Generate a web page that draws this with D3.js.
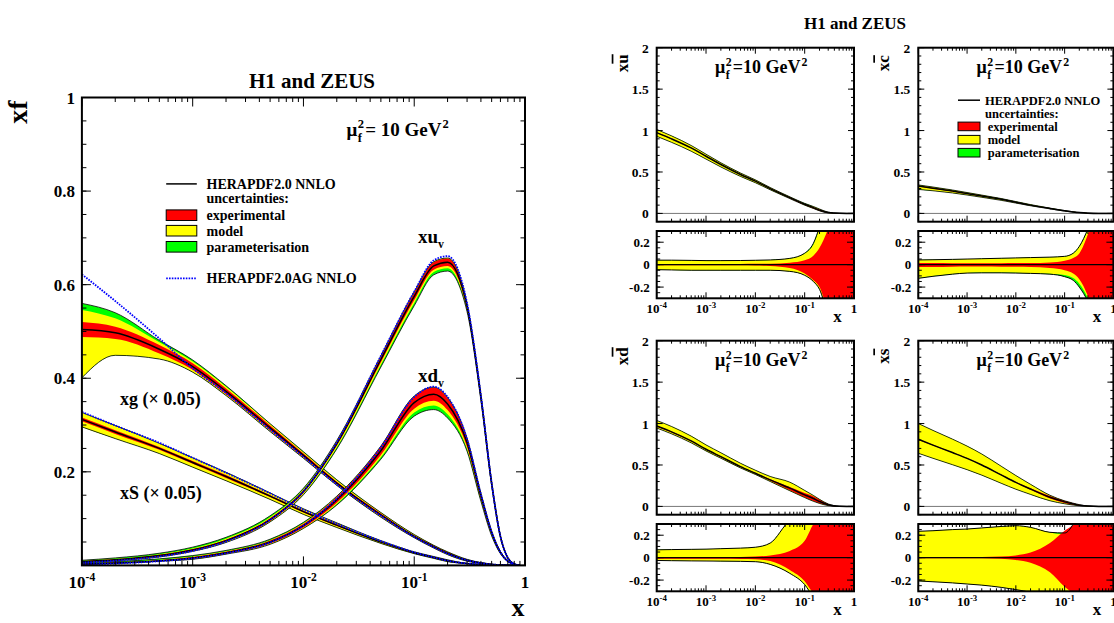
<!DOCTYPE html>
<html><head><meta charset="utf-8">
<script src="https://cdn.jsdelivr.net/npm/d3@7"></script>
<style>
body{margin:0;background:#fff}
svg{display:block}
text{font-family:"Liberation Serif","Times New Roman",serif;font-weight:bold;fill:#000}
</style>
</head><body>
<svg id="chart" width="1114" height="623"></svg>
<script>
// ---------------- DATA: left plot (HERAPDF2.0 NNLO, mu_f^2 = 10 GeV^2) ----------------
const LX = [1e-4,2e-4,5e-4,1e-3,2e-3,5e-3,1e-2,2e-2,5e-2,0.1,0.15,0.2,0.3,0.4,0.5,0.6,0.7,0.8,0.9];

const xgC     = [0.504,0.497,0.462,0.425,0.372,0.294,0.235,0.176,0.108,0.062,0.040,0.026,0.011,0.005,0.002,0.001,0.0003,0,0];
const xgExp   = [0.016,0.013,0.009,0.007,0.006,0.005,0.004,0.003,0.003,0.002,0.002,0.002,0.001,0.001,0.001,0,0,0,0];
const xgModUp = [0.026,0.018,0.006,0.004,0.004,0.003,0.003,0.003,0.002,0.002,0.001,0.001,0.001,0,0,0,0,0,0];
const xgModDn = [0.087,0.035,0.012,0.005,0.003,0.003,0.002,0.002,0.002,0.001,0.001,0.001,0.001,0,0,0,0,0,0];
const xgParUp = [0.014,0.012,0.004,0.003,0.002,0.001,0.001,0.001,0,0,0,0,0,0,0,0,0,0,0];
const xgParDn = [0,0,0,0,0,0,0,0,0,0,0,0,0,0,0,0,0,0,0];
const xgAG    = [0.622,0.565,0.485,0.421,0.368,0.290,0.232,0.173,0.106,0.061,0.039,0.025,0.011,0.005,0.002,0.001,0.0003,0,0];

const xSC     = [0.312,0.285,0.250,0.220,0.190,0.148,0.115,0.086,0.050,0.027,0.017,0.010,0.004,0.0015,0.0005,0,0,0,0];
const xSExp   = [0.004,0.004,0.003,0.003,0.003,0.002,0.002,0.002,0.001,0.001,0.001,0.001,0,0,0,0,0,0,0];
const xSModUp = [0.011,0.010,0.008,0.007,0.006,0.005,0.004,0.003,0.002,0.001,0.001,0.001,0,0,0,0,0,0,0];
const xSModDn = [0.012,0.010,0.008,0.007,0.006,0.005,0.004,0.003,0.002,0.001,0.001,0.001,0,0,0,0,0,0,0];
const xSParUp = [0,0,0,0,0,0,0,0,0,0,0,0,0,0,0,0,0,0,0];
const xSParDn = [0,0,0,0,0,0,0,0,0,0,0,0,0,0,0,0,0,0,0];
const xSAG    = [0.328,0.299,0.262,0.230,0.198,0.154,0.119,0.089,0.052,0.028,0.017,0.010,0.004,0.0015,0.0005,0,0,0,0];

const xuvC     = [0.008,0.012,0.021,0.033,0.053,0.098,0.158,0.260,0.440,0.575,0.640,0.648,0.553,0.360,0.175,0.062,0.016,0.003,0];
const xuvExp   = [0.001,0.001,0.002,0.002,0.002,0.003,0.003,0.004,0.006,0.008,0.008,0.008,0.006,0.005,0.004,0.002,0.001,0,0];
const xuvModUp = [0.001,0.001,0.001,0.001,0.002,0.002,0.002,0.002,0.002,0.002,0.001,0.001,0.001,0.001,0.001,0,0,0,0];
const xuvModDn = [0.001,0.001,0.001,0.001,0.002,0.002,0.003,0.004,0.005,0.006,0.005,0.005,0.003,0.002,0.001,0.001,0,0,0];
const xuvParUp = [0.001,0.002,0.002,0.003,0.003,0.003,0.002,0.001,0,0,0,0,0,0,0,0,0,0,0];
const xuvParDn = [0,0,0,0,0,0,0.001,0.003,0.005,0.006,0.006,0.006,0.002,0.001,0,0,0,0,0];
const xuvAG    = [0.006,0.010,0.019,0.031,0.051,0.097,0.158,0.263,0.448,0.585,0.652,0.661,0.560,0.363,0.176,0.062,0.016,0.003,0];

const xdvC     = [0.003,0.005,0.010,0.016,0.027,0.050,0.085,0.140,0.245,0.348,0.366,0.345,0.262,0.148,0.070,0.028,0.009,0.002,0];
const xdvExp   = [0.001,0.001,0.001,0.002,0.002,0.003,0.004,0.006,0.009,0.013,0.014,0.013,0.009,0.006,0.004,0.002,0.001,0,0];
const xdvModUp = [0.001,0.001,0.001,0.001,0.001,0.001,0.001,0.001,0.001,0.001,0.001,0.001,0.001,0.001,0,0,0,0,0];
const xdvModDn = [0,0,0,0.001,0.001,0.002,0.002,0.003,0.005,0.008,0.010,0.009,0.005,0.003,0.002,0.001,0,0,0];
const xdvParUp = [0.001,0.001,0.002,0.002,0.002,0.002,0.002,0.001,0,0,0,0,0,0,0,0,0,0,0];
const xdvParDn = [0,0,0,0,0,0,0,0.002,0.004,0.008,0.009,0.008,0.004,0.002,0.001,0,0,0,0];
const xdvAG    = [0.002,0.004,0.009,0.015,0.026,0.049,0.085,0.143,0.252,0.360,0.382,0.360,0.270,0.152,0.071,0.028,0.009,0.002,0];

// ---------------- DATA: right panels (central values + relative band edges) ----------------
const RX = [1e-4,2e-4,5e-4,1e-3,2e-3,5e-3,1e-2,2e-2,5e-2,0.1,0.15,0.2,0.3,0.5,0.7,1];

const ubarC     = [0.975,0.90,0.79,0.69,0.59,0.47,0.39,0.30,0.19,0.11,0.07,0.04,0.01,0.001,0,0];
const ubarRedUp = [0.006,0.006,0.005,0.005,0.005,0.006,0.007,0.009,0.018,0.04,0.08,0.15,0.32,0.6,0.6,0.6];
const ubarRedDn = [-0.006,-0.006,-0.005,-0.005,-0.005,-0.006,-0.008,-0.012,-0.03,-0.08,-0.14,-0.2,-0.42,-0.6,-0.6,-0.6];
const ubarYelUp = [0.04,0.04,0.038,0.036,0.036,0.037,0.039,0.042,0.055,0.1,0.18,0.32,0.5,0.6,0.6,0.6];
const ubarYelDn = [-0.045,-0.047,-0.05,-0.05,-0.05,-0.05,-0.05,-0.05,-0.06,-0.095,-0.15,-0.22,-0.45,-0.6,-0.6,-0.6];
const ubarTotUp = [0.04,0.04,0.038,0.036,0.036,0.037,0.039,0.042,0.056,0.102,0.19,0.33,0.5,0.6,0.6,0.6];
const ubarTotDn = [-0.045,-0.047,-0.05,-0.05,-0.05,-0.05,-0.05,-0.05,-0.06,-0.095,-0.15,-0.22,-0.45,-0.6,-0.6,-0.6];

const cbarC     = [0.33,0.305,0.27,0.24,0.21,0.17,0.135,0.10,0.06,0.032,0.018,0.01,0.003,0,0,0];
const cbarRedUp = [0.015,0.014,0.013,0.013,0.013,0.013,0.014,0.015,0.02,0.035,0.06,0.1,0.27,0.6,0.6,0.6];
const cbarRedDn = [-0.02,-0.02,-0.018,-0.017,-0.017,-0.018,-0.019,-0.02,-0.03,-0.05,-0.08,-0.13,-0.28,-0.6,-0.6,-0.6];
const cbarYelUp = [0.041,0.043,0.046,0.05,0.053,0.057,0.06,0.063,0.067,0.073,0.1,0.16,0.31,0.6,0.6,0.6];
const cbarYelDn = [-0.12,-0.102,-0.083,-0.074,-0.071,-0.071,-0.073,-0.076,-0.082,-0.092,-0.12,-0.17,-0.3,-0.6,-0.6,-0.6];
const cbarTotUp = [0.042,0.044,0.047,0.05,0.053,0.057,0.06,0.063,0.067,0.074,0.102,0.163,0.32,0.6,0.6,0.6];
const cbarTotDn = [-0.122,-0.104,-0.085,-0.075,-0.073,-0.073,-0.075,-0.078,-0.085,-0.107,-0.14,-0.2,-0.33,-0.6,-0.6,-0.6];

const dbarC     = [0.97,0.90,0.79,0.69,0.60,0.48,0.40,0.32,0.22,0.14,0.095,0.06,0.02,0.001,0,0];
const dbarRedUp = [0.005,0.005,0.005,0.005,0.005,0.006,0.01,0.02,0.06,0.15,0.3,0.38,0.45,0.6,0.6,0.6];
const dbarRedDn = [-0.01,-0.01,-0.01,-0.01,-0.01,-0.012,-0.015,-0.03,-0.11,-0.21,-0.32,-0.38,-0.45,-0.6,-0.6,-0.6];
const dbarYelUp = [0.07,0.072,0.074,0.076,0.08,0.085,0.093,0.13,0.33,0.38,0.4,0.42,0.5,0.6,0.6,0.6];
const dbarYelDn = [-0.025,-0.027,-0.029,-0.03,-0.031,-0.033,-0.036,-0.06,-0.14,-0.24,-0.35,-0.4,-0.5,-0.6,-0.6,-0.6];
const dbarTotUp = [0.07,0.072,0.074,0.076,0.08,0.085,0.093,0.13,0.33,0.38,0.4,0.42,0.5,0.6,0.6,0.6];
const dbarTotDn = [-0.025,-0.027,-0.029,-0.03,-0.031,-0.033,-0.036,-0.06,-0.14,-0.24,-0.35,-0.4,-0.5,-0.6,-0.6,-0.6];

const sbarC     = [0.81,0.74,0.65,0.58,0.50,0.38,0.29,0.21,0.11,0.055,0.03,0.015,0.004,0,0,0];
const sbarRedUp = [0.005,0.005,0.005,0.005,0.006,0.01,0.02,0.045,0.13,0.24,0.29,0.34,0.5,0.6,0.6,0.6];
const sbarRedDn = [-0.005,-0.005,-0.005,-0.005,-0.006,-0.01,-0.02,-0.045,-0.13,-0.26,-0.33,-0.42,-0.5,-0.6,-0.6,-0.6];
const sbarYelUp = [0.235,0.24,0.25,0.255,0.265,0.278,0.285,0.27,0.225,0.21,0.285,0.4,0.5,0.6,0.6,0.6];
const sbarYelDn = [-0.208,-0.215,-0.225,-0.235,-0.245,-0.265,-0.285,-0.31,-0.38,-0.42,-0.45,-0.5,-0.55,-0.6,-0.6,-0.6];
const sbarTotUp = [0.235,0.24,0.25,0.255,0.265,0.278,0.285,0.27,0.226,0.22,0.3,0.42,0.5,0.6,0.6,0.6];
const sbarTotDn = [-0.208,-0.215,-0.225,-0.235,-0.245,-0.265,-0.285,-0.31,-0.38,-0.42,-0.45,-0.5,-0.55,-0.6,-0.6,-0.6];

// ---------------- tick labels ----------------
const xMajorTicks = [1e-4,1e-3,1e-2,1e-1,1];
const xTickExps   = [-4,-3,-2,-1,0];
const xMinorMult  = [2,3,4,5,6,7,8,9];
const leftYTicks  = [0.2,0.4,0.6,0.8,1];
const leftYLabels = ["0.2","0.4","0.6","0.8","1"];
const upYTicks    = [0,0.5,1,1.5,2];
const upYLabels   = ["0","0.5","1","1.5","2"];
const ratYTicks   = [-0.2,0,0.2];
const ratYLabels  = ["-0.2","0","0.2"];

const legendLabels = ["HERAPDF2.0 NNLO","uncertainties:","experimental","model","parameterisation","HERAPDF2.0AG NNLO"];
const RED = "#ff0000", YEL = "#ffff00", GRN = "#00ff00", BLUE = "#0000ff";

// ---------------- helpers ----------------
const svg = d3.select("#chart");
svg.append("rect").attr("width",1114).attr("height",623).attr("fill","#fff");
const defs = svg.append("defs");
let clipN = 0;
function clip(x0,y0,x1,y1){
  const id = "clip"+(clipN++);
  defs.append("clipPath").attr("id",id).append("rect").attr("x",x0).attr("y",y0).attr("width",x1-x0).attr("height",y1-y0);
  return "url(#"+id+")";
}
function area(g,X,xs,ys,lo,hi,fill){
  g.append("path").datum(d3.range(X.length))
    .attr("d", d3.area().x(i=>xs(X[i])).y0(i=>ys(lo[i])).y1(i=>ys(hi[i])).curve(d3.curveMonotoneX))
    .attr("fill",fill).attr("stroke","none");
}
function line(g,X,xs,ys,v,stroke,w,dash){
  const p = g.append("path").datum(d3.range(X.length))
    .attr("d", d3.line().x(i=>xs(X[i])).y(i=>ys(v[i])).curve(d3.curveMonotoneX))
    .attr("fill","none").attr("stroke",stroke).attr("stroke-width",w);
  if(dash) p.attr("stroke-dasharray",dash);
}
function txt(g,x,y,s,size,anchor){
  return g.append("text").attr("x",x).attr("y",y).attr("text-anchor",anchor||"start").style("font-size",size+"px").text(s);
}
function sci(g,x,y,e,size){
  if(e===0){ return txt(g,x,y,"1",size,"middle"); }
  const t = g.append("text").attr("x",x).attr("y",y).attr("text-anchor","middle").style("font-size",size+"px");
  t.append("tspan").text("10");
  t.append("tspan").attr("dy",-size*0.42).style("font-size",(size*0.68)+"px").text(String(e));
  return t;
}
function ticks(g,xs,ys,x0,x1,y0,y1,yMaj,yMin,yl,yls,xl,xls,doTop){
  const tg = g.append("g").attr("stroke","#000").attr("stroke-width",1);
  const seg=(a,b,c,d)=>tg.append("line").attr("x1",a).attr("y1",b).attr("x2",c).attr("y2",d);
  yMaj.forEach(v=>{const y=ys(v); seg(x0,y,x0+yl,y); seg(x1,y,x1-yl,y);});
  yMin.forEach(v=>{const y=ys(v); seg(x0,y,x0+yls,y); seg(x1,y,x1-yls,y);});
  xMajorTicks.forEach(v=>{const x=xs(v); seg(x,y1,x,y1-xl); if(doTop) seg(x,y0,x,y0+xl);});
  xMajorTicks.slice(0,-1).forEach(d=>xMinorMult.forEach(k=>{const x=xs(d*k); seg(x,y1,x,y1-xls); if(doTop) seg(x,y0,x,y0+xls);}));
}
function frame(g,x0,y0,x1,y1,w){
  g.append("rect").attr("x",x0).attr("y",y0).attr("width",x1-x0).attr("height",y1-y0)
    .attr("fill","none").attr("stroke","#000").attr("stroke-width",w);
}
function muLabel(g,x,y,size,mid){
  const t1 = txt(g,x,y,"\u03bc",size);
  const w1 = t1.node().getComputedTextLength();
  txt(g,x+w1+0.5,y-size*0.42,"2",size*0.66);
  txt(g,x+w1+0.5,y+size*0.3,"f",size*0.66);
  const t2 = txt(g,x+w1+size*0.42,y,mid,size);
  const w2 = t2.node().getComputedTextLength();
  txt(g,x+w1+size*0.42+w2+1,y-size*0.42,"2",size*0.66);
}

// ---------------- LEFT PLOT ----------------
const L = {x0:81.9, x1:525, y0:97.5, y1:565.4};
const lx = d3.scaleLog().domain([1e-4,1]).range([L.x0,L.x1]);
const ly = d3.scaleLinear().domain([0,1]).range([L.y1,L.y0]);
const lg = svg.append("g");
const lc = lg.append("g").attr("clip-path",clip(L.x0,L.y0,L.x1,L.y1));

function pdfCurve(C,E,MU,MD,PU,PD){
  const rLo=C.map((c,i)=>c-E[i]), rHi=C.map((c,i)=>c+E[i]);
  const yLo=rLo.map((v,i)=>v-MD[i]), yHi=rHi.map((v,i)=>v+MU[i]);
  const tLo=yLo.map((v,i)=>v-PD[i]), tHi=yHi.map((v,i)=>v+PU[i]);
  area(lc,LX,lx,ly,tLo,tHi,GRN);
  area(lc,LX,lx,ly,yLo,yHi,YEL);
  area(lc,LX,lx,ly,rLo,rHi,RED);
  line(lc,LX,lx,ly,tLo,"#000",0.8);
  line(lc,LX,lx,ly,tHi,"#000",0.8);
  line(lc,LX,lx,ly,C,"#000",1.5);
}
pdfCurve(xgC,xgExp,xgModUp,xgModDn,xgParUp,xgParDn);
pdfCurve(xSC,xSExp,xSModUp,xSModDn,xSParUp,xSParDn);
pdfCurve(xuvC,xuvExp,xuvModUp,xuvModDn,xuvParUp,xuvParDn);
pdfCurve(xdvC,xdvExp,xdvModUp,xdvModDn,xdvParUp,xdvParDn);
[xgAG,xSAG,xuvAG,xdvAG].forEach(a=>line(lc,LX,lx,ly,a,BLUE,1.8,"1.6,1.2"));

ticks(lg,lx,ly,L.x0,L.x1,L.y0,L.y1,[0,0.2,0.4,0.6,0.8,1],d3.range(0.05,1,0.05),9,4.5,9,4.5,true);
frame(lg,L.x0,L.y0,L.x1,L.y1,2);

leftYTicks.forEach((v,i)=>txt(lg,L.x0-7,ly(v)+6,leftYLabels[i],17,"end"));
xMajorTicks.forEach((v,i)=>sci(lg,lx(v),588,xTickExps[i],17));
txt(lg,312,88,"H1 and ZEUS",21,"middle");
txt(lg,518,616,"x",26,"middle");
lg.append("text").attr("transform","translate(27,112) rotate(-90)").attr("text-anchor","middle").style("font-size","28px").text("xf");
muLabel(lg,346.5,136,19,"= 10 GeV");

// legend
const legY = [183.9,198.2,215.1,230.6,246.7,278.3];
lg.append("line").attr("x1",166.2).attr("x2",196.8).attr("y1",legY[0]).attr("y2",legY[0]).attr("stroke","#000").attr("stroke-width",1.5);
[RED,YEL,GRN].forEach((c,i)=>lg.append("rect").attr("x",166.2).attr("y",legY[i+2]-5.2).attr("width",30.6).attr("height",10.6)
   .attr("fill",c).attr("stroke","#000").attr("stroke-width",1));
lg.append("line").attr("x1",166.2).attr("x2",196.8).attr("y1",legY[5]).attr("y2",legY[5]).attr("stroke",BLUE).attr("stroke-width",1.8).attr("stroke-dasharray","1.6,1.2");
legendLabels.forEach((s,i)=>txt(lg,206.5,legY[i]+5,s,14));

// curve labels
function subLabel(g,x,y,main,sub,size){
  const t = g.append("text").attr("x",x).attr("y",y).style("font-size",size+"px");
  t.append("tspan").text(main);
  t.append("tspan").attr("dy",size*0.25).style("font-size",(size*0.62)+"px").text(sub);
}
subLabel(lg,418,243,"xu","v",19);
subLabel(lg,418,382,"xd","v",19);
txt(lg,120,405,"xg (\u00d7 0.05)",18);
txt(lg,120,499,"xS (\u00d7 0.05)",18);

// ---------------- RIGHT PANELS ----------------
txt(svg,855,29,"H1 and ZEUS",17,"middle");

const panels = [
  {left:656.7, right:854,    top:47.7,  q:"u", C:ubarC, RU:ubarRedUp, RD:ubarRedDn, YU:ubarYelUp, YD:ubarYelDn, TU:ubarTotUp, TD:ubarTotDn, legend:false},
  {left:918.3, right:1113.4, top:47.7,  q:"c", C:cbarC, RU:cbarRedUp, RD:cbarRedDn, YU:cbarYelUp, YD:cbarYelDn, TU:cbarTotUp, TD:cbarTotDn, legend:true},
  {left:656.7, right:854,    top:340.7, q:"d", C:dbarC, RU:dbarRedUp, RD:dbarRedDn, YU:dbarYelUp, YD:dbarYelDn, TU:dbarTotUp, TD:dbarTotDn, legend:false},
  {left:918.3, right:1113.4, top:340.7, q:"s", C:sbarC, RU:sbarRedUp, RD:sbarRedDn, YU:sbarYelUp, YD:sbarYelDn, TU:sbarTotUp, TD:sbarTotDn, legend:false}
];

panels.forEach(p=>{
  const g = svg.append("g");
  const uTop=p.top, uBot=p.top+174, rTop=p.top+183.3, rBot=p.top+250.6;
  const xs = d3.scaleLog().domain([1e-4,1]).range([p.left,p.right]);
  const ysU = d3.scaleLinear().domain([-0.1,2]).range([uBot,uTop]);
  const ysR = d3.scaleLinear().domain([-0.3,0.3]).range([rBot,rTop]);

  // upper panel
  const gu = g.append("g").attr("clip-path",clip(p.left,uTop,p.right,uBot));
  gu.append("line").attr("x1",p.left).attr("x2",p.right).attr("y1",ysU(0)).attr("y2",ysU(0)).attr("stroke","#777").attr("stroke-width",1);
  const abs = a=>p.C.map((c,i)=>c*(1+a[i]));
  area(gu,RX,xs,ysU,abs(p.TD),abs(p.TU),GRN);
  area(gu,RX,xs,ysU,abs(p.YD),abs(p.YU),YEL);
  area(gu,RX,xs,ysU,abs(p.RD),abs(p.RU),RED);
  line(gu,RX,xs,ysU,abs(p.TD),"#000",0.8);
  line(gu,RX,xs,ysU,abs(p.TU),"#000",0.8);
  line(gu,RX,xs,ysU,p.C,"#000",1.5);
  ticks(g,xs,ysU,p.left,p.right,uTop,uBot,upYTicks,d3.range(-0.1,2.0,0.1),6,3,6,3,true);
  frame(g,p.left,uTop,p.right,uBot,2);
  upYTicks.forEach((v,i)=>txt(g,p.left-8,ysU(v)+5,upYLabels[i],13.5,"end"));

  // ratio panel
  const gr = g.append("g").attr("clip-path",clip(p.left,rTop,p.right,rBot));
  area(gr,RX,xs,ysR,p.TD,p.TU,GRN);
  area(gr,RX,xs,ysR,p.YD,p.YU,YEL);
  area(gr,RX,xs,ysR,p.RD,p.RU,RED);
  line(gr,RX,xs,ysR,p.TD,"#000",1);
  line(gr,RX,xs,ysR,p.TU,"#000",1);
  gr.append("line").attr("x1",p.left).attr("x2",p.right).attr("y1",ysR(0)).attr("y2",ysR(0)).attr("stroke","#000").attr("stroke-width",1.2);
  ticks(g,xs,ysR,p.left,p.right,rTop,rBot,ratYTicks,d3.range(-0.25,0.3,0.05),7,3.5,6,3,true);
  frame(g,p.left,rTop,p.right,rBot,2);
  ratYTicks.forEach((v,i)=>txt(g,p.left-7,ysR(v)+4.5,ratYLabels[i],13,"end"));
  xMajorTicks.forEach((v,i)=>sci(g,xs(v),rBot+14.7,xTickExps[i],13));
  txt(g,p.right-16.5,rBot+23.7,"x",17,"middle");

  // y label
  const yl = g.append("text").attr("transform","translate("+(p.left-29)+","+(p.top+15.5)+") rotate(-90)")
     .attr("text-anchor","middle").style("font-size","17px");
  yl.append("tspan").text("x");
  yl.append("tspan").style("text-decoration","overline").text(p.q);

  muLabel(g,p.left+58.3,p.top+25.6,18,"=10 GeV");

  if(p.legend){
    const lx0=p.left+39.7, lx1=p.left+61.7;
    const ys=[p.top+52.5,p.top+65.5,p.top+78.7,p.top+92,p.top+105];
    g.append("line").attr("x1",lx0).attr("x2",lx1).attr("y1",ys[0]).attr("y2",ys[0]).attr("stroke","#000").attr("stroke-width",1.5);
    [RED,YEL,GRN].forEach((c,i)=>g.append("rect").attr("x",lx0).attr("y",ys[i+2]-4.3).attr("width",22).attr("height",8.6)
       .attr("fill",c).attr("stroke","#000").attr("stroke-width",1));
    txt(g,p.left+66.7,ys[0]+4.3,legendLabels[0],12.5);
    txt(g,p.left+66.7,ys[1]+4.3,legendLabels[1],12.5);
    [2,3,4].forEach(k=>txt(g,p.left+69.4,ys[k]+4.5,legendLabels[k],12.5));
  }
});
</script>
</body></html>
